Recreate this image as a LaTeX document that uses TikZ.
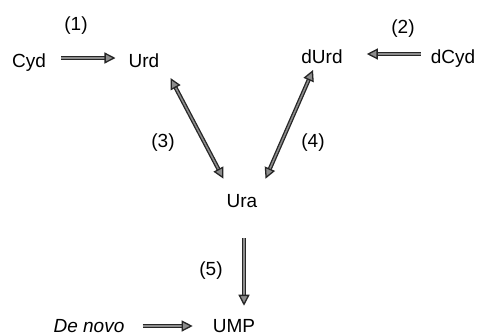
\documentclass[tikz,border=0pt]{standalone}
\usepackage{fontspec}
\setmainfont{Liberation Sans}
\usetikzlibrary{arrows.meta,calc}
\tikzset{gtip/.tip={Triangle[length=11bp,width=11bp,line width=1.3bp,fill=black!45]}}
\begin{document}
\begin{tikzpicture}[x=1bp,y=-1bp,
  lbl/.style={inner sep=0pt, anchor=base, font=\fontsize{19bp}{22bp}\selectfont},
  arr/.style={draw=black!85, line width=1.3bp, double=black!45, double distance=1.5bp, -{gtip}},
  darr/.style={draw=black!85, line width=1.3bp, double=black!45, double distance=1.5bp, {gtip}-{gtip}}]
\useasboundingbox (0,0) rectangle (479,335);
\node[lbl] (cyd) at (29,67) {Cyd};
\node[lbl] (urd) at (144,67) {Urd};
\node[lbl] (durd) at (322,63) {dUrd};
\node[lbl] (dcyd) at (453,63) {dCyd};
\node[lbl] (ura) at (242,207) {Ura};
\node[lbl] (ump) at (234,332) {UMP};
\node[lbl] (denovo) at (89,332) {\itshape De novo};
\node[lbl] (n1) at (76,30.5) {(1)};
\node[lbl] (n2) at (403,33.5) {(2)};
\node[lbl] (n3) at (163,147.5) {(3)};
\node[lbl] (n4) at (313,147.5) {(4)};
\node[lbl] (n5) at (211,275.5) {(5)};
\draw[arr] ($(cyd.base east)+(15,-9)$) -- ($(urd.base west)+(-13,-9)$);
\draw[arr] ($(dcyd.base west)+(-10,-9)$) -- ($(durd.base east)+(24,-9)$);
\draw[darr] ($(urd.base east)+(11,11)$) -- ($(ura.north west)+(-3,-15)$);
\draw[darr] ($(durd.base)+(-9,7)$) -- ($(ura.north east)+(8,-15)$);
\draw[arr] ($(ura.base)+(2,31)$) -- ($(ump.north)+(10,-13)$);
\draw[arr] ($(denovo.base east)+(18,-6)$) -- ($(ump.base west)+(-20,-6)$);
\end{tikzpicture}
\end{document}
